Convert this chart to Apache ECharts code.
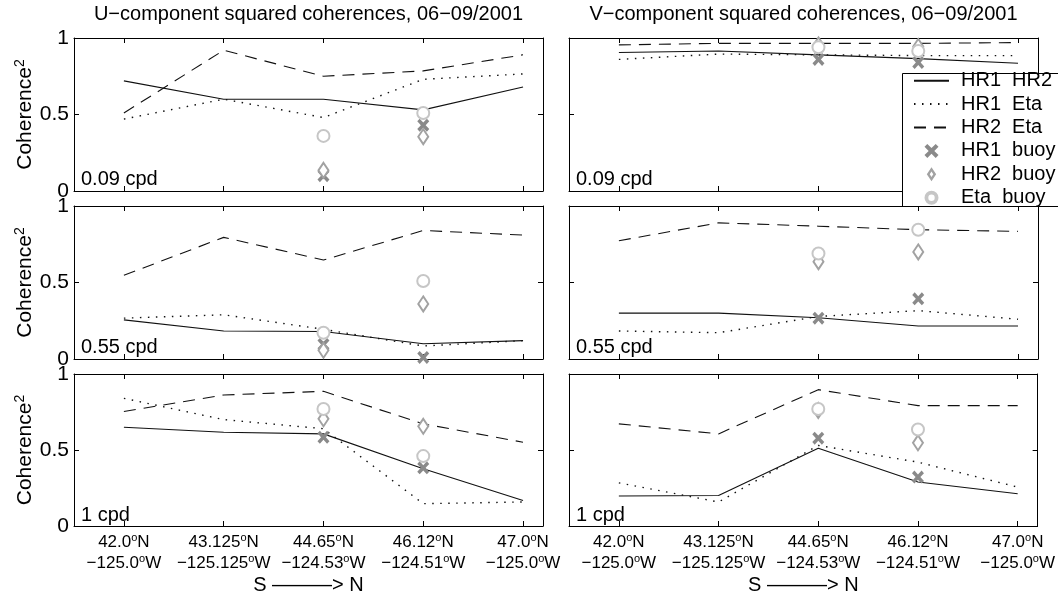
<!DOCTYPE html>
<html>
<head>
<meta charset="utf-8">
<script src="https://cdn.jsdelivr.net/npm/echarts@6/dist/echarts.min.js"></script>
<style>
  html, body { margin: 0; padding: 0; background: #fff; }
  #chart { width: 1058px; height: 596px; }
</style>
</head>
<body>
<div id="chart"></div>
<script>
// Stations along the coast, south to north
const latitudes = ['42.0', '43.125', '44.65', '46.12', '47.0'];
const longitudes = ['\u2212125.0', '\u2212125.125', '\u2212124.53', '\u2212124.51', '\u2212125.0'];
const stationIndex = [1, 2, 3, 4, 5];
const yTicks = [0, 0.5, 1];
const bandLabels = ['0.09 cpd', '0.55 cpd', '1 cpd'];
const componentTitles = [
  'U\u2212component squared coherences, 06\u221209/2001',
  'V\u2212component squared coherences, 06\u221209/2001'
];
const lineNames = ['HR1  HR2', 'HR1  Eta', 'HR2  Eta'];
const buoyNames = ['HR1  buoy', 'HR2  buoy', 'Eta  buoy'];

// U component, 0.09 cpd
const uLowHr1Hr2 = [0.72, 0.60, 0.60, 0.53, 0.68];
const uLowHr1Eta = [0.47, 0.60, 0.48, 0.73, 0.765];
const uLowHr2Eta = [0.51, 0.92, 0.75, 0.785, 0.89];
const uLowHr1Buoy = [null, null, 0.10, 0.43, null];
const uLowHr2Buoy = [null, null, 0.135, 0.355, null];
const uLowEtaBuoy = [null, null, 0.36, 0.51, null];

// U component, 0.55 cpd
const uMidHr1Hr2 = [0.256, 0.183, 0.18, 0.10, 0.12];
const uMidHr1Eta = [0.267, 0.289, 0.194, 0.085, 0.12];
const uMidHr2Eta = [0.547, 0.795, 0.647, 0.84, 0.81];
const uMidHr1Buoy = [null, null, 0.095, 0.01, null];
const uMidHr2Buoy = [null, null, 0.057, 0.36, null];
const uMidEtaBuoy = [null, null, 0.172, 0.51, null];

// U component, 1 cpd
const uHighHr1Hr2 = [0.65, 0.617, 0.606, 0.376, 0.168];
const uHighHr1Eta = [0.84, 0.70, 0.64, 0.147, 0.158];
const uHighHr2Eta = [0.753, 0.862, 0.886, 0.672, 0.551];
const uHighHr1Buoy = [null, null, 0.584, 0.383, null];
const uHighHr2Buoy = [null, null, 0.705, 0.656, null];
const uHighEtaBuoy = [null, null, 0.77, 0.46, null];

// V component, 0.09 cpd
const vLowHr1Hr2 = [0.905, 0.915, 0.89, 0.865, 0.835];
const vLowHr1Eta = [0.86, 0.895, 0.89, 0.885, 0.885];
const vLowHr2Eta = [0.955, 0.965, 0.965, 0.965, 0.97];
const vLowHr1Buoy = [null, null, 0.86, 0.84, null];
const vLowHr2Buoy = [null, null, 0.955, 0.945, null];
const vLowEtaBuoy = [null, null, 0.94, 0.915, null];

// V component, 0.55 cpd
const vMidHr1Hr2 = [0.30, 0.30, 0.27, 0.216, 0.216];
const vMidHr1Eta = [0.183, 0.172, 0.278, 0.316, 0.26];
const vMidHr2Eta = [0.773, 0.89, 0.868, 0.845, 0.834];
const vMidHr1Buoy = [null, null, 0.267, 0.393, null];
const vMidHr2Buoy = [null, null, 0.636, 0.70, null];
const vMidEtaBuoy = [null, null, 0.69, 0.845, null];

// V component, 1 cpd
const vHighHr1Hr2 = [0.197, 0.201, 0.512, 0.289, 0.212];
const vHighHr1Eta = [0.284, 0.158, 0.53, 0.42, 0.256];
const vHighHr2Eta = [0.672, 0.606, 0.897, 0.792, 0.792];
const vHighHr1Buoy = [null, null, 0.578, 0.322, null];
const vHighHr2Buoy = [null, null, 0.76, 0.547, null];
const vHighEtaBuoy = [null, null, 0.77, 0.635, null];

const panels = [
  { col: 0, row: 0, lines: [uLowHr1Hr2, uLowHr1Eta, uLowHr2Eta], buoys: [uLowHr1Buoy, uLowHr2Buoy, uLowEtaBuoy] },
  { col: 0, row: 1, lines: [uMidHr1Hr2, uMidHr1Eta, uMidHr2Eta], buoys: [uMidHr1Buoy, uMidHr2Buoy, uMidEtaBuoy] },
  { col: 0, row: 2, lines: [uHighHr1Hr2, uHighHr1Eta, uHighHr2Eta], buoys: [uHighHr1Buoy, uHighHr2Buoy, uHighEtaBuoy] },
  { col: 1, row: 0, lines: [vLowHr1Hr2, vLowHr1Eta, vLowHr2Eta], buoys: [vLowHr1Buoy, vLowHr2Buoy, vLowEtaBuoy] },
  { col: 1, row: 1, lines: [vMidHr1Hr2, vMidHr1Eta, vMidHr2Eta], buoys: [vMidHr1Buoy, vMidHr2Buoy, vMidEtaBuoy] },
  { col: 1, row: 2, lines: [vHighHr1Hr2, vHighHr1Eta, vHighHr2Eta], buoys: [vHighHr1Buoy, vHighHr2Buoy, vHighEtaBuoy] }
];

const font = 'Liberation Sans';
const colLeft = [74, 569];
const rowTop = [38, 206, 374];
const plotW = 469;
const plotH = 153;

const lineDash = ['solid', [1.5, 6.5], [12, 8]];
const crossPath = 'path://M2,0L5,3L8,0L10,2L7,5L10,8L8,10L5,7L2,10L0,8L3,5L0,2Z';
const diamondRingPath = 'path://M5,0L10,7.5L5,15L0,7.5Z M5,4.6L3.1,7.5L5,10.4L6.9,7.5Z';
const circleRingPath = 'path://M7,0A7,7 0 1,1 7,14A7,7 0 1,1 7,0Z M7,3.8A3.2,3.2 0 1,0 7,10.2A3.2,3.2 0 1,0 7,3.8Z';
const buoyMarkers = [
  { symbol: crossPath, size: [12, 13], color: '#8a8a8a', border: 0 },
  { symbol: 'emptyDiamond', size: [10, 15], color: '#a2a2a2', border: 3.2 },
  { symbol: 'emptyCircle', size: 12, color: '#c6c6c6', border: 3.5 }
];

const frameLine = { show: true, onZero: false, lineStyle: { color: '#000', width: 1 } };
const innerTick = { show: true, inside: true, length: 5, lineStyle: { color: '#000', width: 1 } };
const supRich = { fontSize: 11, fontFamily: font, color: '#000', verticalAlign: 'top', padding: [0, 0, 6, 0] };

const grid = [], xAxis = [], yAxis = [], series = [], graphic = [];

panels.forEach((p, i) => {
  const isBottom = p.row === 2;
  const isLeft = p.col === 0;
  grid.push({ left: colLeft[p.col], top: rowTop[p.row], width: plotW, height: plotH });

  const xBase = {
    gridIndex: i, type: 'value', min: 0.5, max: 5.2,
    axisLine: frameLine,
    axisTick: Object.assign({ customValues: stationIndex }, innerTick),
    splitLine: { show: false }
  };
  xAxis.push(Object.assign({}, xBase, {
    position: 'bottom',
    axisLabel: {
      show: isBottom, customValues: stationIndex, margin: 6,
      formatter: v => {
        const k = Math.round(v) - 1;
        return '{t|' + latitudes[k] + '}{s|o}{t|N}\n{t|' + longitudes[k] + '}{s|o}{t|W}';
      },
      rich: {
        t: { fontSize: 17, fontFamily: font, color: '#000', lineHeight: 21 },
        s: supRich
      }
    },
    name: isBottom ? 'S \u2014\u2014\u2014> N' : '',
    nameLocation: 'middle', nameGap: 49,
    nameTextStyle: { fontSize: 20, fontFamily: font, color: '#000' }
  }));
  xAxis.push(Object.assign({}, xBase, { position: 'top', axisLabel: { show: false } }));

  const yBase = {
    gridIndex: i, type: 'value', min: 0, max: 1, interval: 0.5,
    axisLine: frameLine, axisTick: innerTick, splitLine: { show: false }
  };
  yAxis.push(Object.assign({}, yBase, {
    position: 'left',
    axisLabel: {
      show: isLeft, margin: 5, fontSize: 21, fontFamily: font, color: '#000',
      customValues: yTicks
    },
    name: isLeft ? '{a|Coherence}{s|2}' : '',
    nameLocation: 'middle', nameRotate: 90, nameGap: 37,
    nameTextStyle: {
      rich: {
        a: { fontSize: 21, fontFamily: font, color: '#000', lineHeight: 24 },
        s: { fontSize: 14, fontFamily: font, color: '#000', verticalAlign: 'top', padding: [0, 0, 6, 0] }
      }
    }
  }));
  yAxis.push(Object.assign({}, yBase, { position: 'right', axisLabel: { show: false } }));

  p.lines.forEach((arr, s) => {
    series.push({
      type: 'line', name: lineNames[s], xAxisIndex: 2 * i, yAxisIndex: 2 * i,
      data: arr.map((v, k) => [stationIndex[k], v]),
      symbol: 'none', showSymbol: false, silent: true, z: 2,
      itemStyle: { color: 'rgba(0,0,0,0)', borderColor: 'rgba(0,0,0,0)', borderWidth: 0 },
      lineStyle: { color: '#111', width: s === 1 ? 1.4 : 1.1, type: lineDash[s] }
    });
  });
  p.buoys.forEach((arr, s) => {
    const m = buoyMarkers[s];
    series.push({
      type: 'scatter', name: buoyNames[s], xAxisIndex: 2 * i, yAxisIndex: 2 * i,
      data: arr.map((v, k) => [stationIndex[k], v]).filter(d => d[1] !== null),
      symbol: m.symbol, symbolSize: m.size, symbolKeepAspect: true, silent: true, z: 3 + s,
      itemStyle: { color: m.color, borderColor: m.color, borderWidth: m.border, opacity: 1 }
    });
  });

  graphic.push({
    type: 'text', x: colLeft[p.col] + 7, y: rowTop[p.row] + plotH - 12,
    style: { text: bandLabels[p.row], fontSize: 20, fontFamily: font, fill: '#000', align: 'left', verticalAlign: 'middle' },
    z: 10
  });
});

// legend box
graphic.push({ type: 'rect', shape: { x: 902, y: 73, width: 170, height: 133 }, style: { fill: '#fff' }, z: 3 });
graphic.push({ type: 'rect', shape: { x: 902.5, y: 73.5, width: 170, height: 133 }, style: { fill: 'none', stroke: '#000', lineWidth: 1 }, z: 20 });

const legendData = lineNames.map(n => ({ name: n, itemStyle: { opacity: 0 } })).concat([
  { name: buoyNames[0] },
  { name: buoyNames[1], icon: diamondRingPath, itemStyle: { color: '#a2a2a2', borderWidth: 0 } },
  { name: buoyNames[2], icon: circleRingPath, itemStyle: { color: '#c6c6c6', borderWidth: 0 } }
]);

const option = {
  animation: false,
  backgroundColor: '#fff',
  title: componentTitles.map((t, c) => ({
    text: t, left: colLeft[c] + plotW / 2, top: 4, textAlign: 'center', padding: 0,
    textStyle: { fontSize: 20, fontWeight: 'normal', fontFamily: font, color: '#000' }
  })),
  legend: {
    orient: 'vertical', left: 913, top: 69, padding: 0, itemGap: 0,
    itemWidth: 35, itemHeight: 14, selectedMode: false, z: 8,
    data: legendData,
    textStyle: { fontSize: 20, fontFamily: font, color: '#000', lineHeight: 23.4, padding: [0, 0, 0, 7] }
  },
  grid, xAxis, yAxis, series, graphic
};

const chart = echarts.init(document.getElementById('chart'), null, { renderer: 'canvas' });
chart.setOption(option);
</script>
</body>
</html>
